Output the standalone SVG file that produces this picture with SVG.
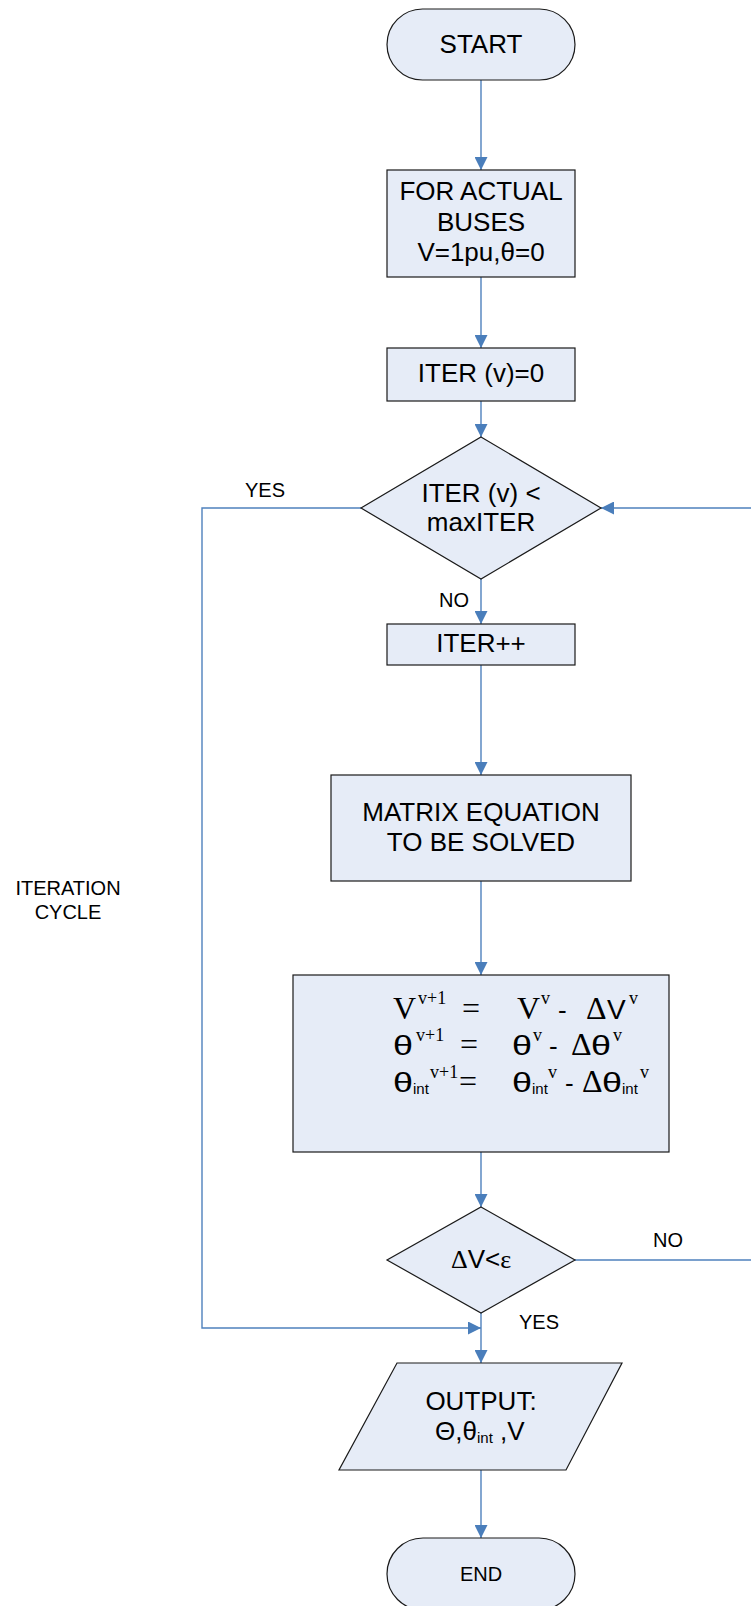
<svg xmlns="http://www.w3.org/2000/svg" width="751" height="1606" viewBox="0 0 751 1606">
<defs>
<style>
.nd{fill:#e6ecf7;stroke:#1a1a1a;stroke-width:1.2}
.cn{fill:none;stroke:#4f81bd;stroke-width:1.4}
.t{font-family:"Liberation Sans",Arial,sans-serif;font-size:26px;fill:#000;text-anchor:middle}
.lb{font-family:"Liberation Sans",Arial,sans-serif;font-size:20px;fill:#000}
.a{font-family:"Liberation Sans",Arial,sans-serif;fill:#000}
.s{font-family:"Liberation Serif","Times New Roman",serif;fill:#000}
</style>
<marker id="ah" markerUnits="userSpaceOnUse" markerWidth="13" markerHeight="13" refX="13" refY="6.5" orient="auto">
<path d="M0,0 L13,6.5 L0,13 Z" fill="#4a7ebb"/>
</marker>
</defs>

<g id="connectors">
<line class="cn" x1="481" y1="80" x2="481" y2="170" marker-end="url(#ah)"/>
<line class="cn" x1="481" y1="277" x2="481" y2="348" marker-end="url(#ah)"/>
<line class="cn" x1="481" y1="401" x2="481" y2="437" marker-end="url(#ah)"/>
<line class="cn" x1="481" y1="579" x2="481" y2="624" marker-end="url(#ah)"/>
<line class="cn" x1="481" y1="665" x2="481" y2="775" marker-end="url(#ah)"/>
<line class="cn" x1="481" y1="881" x2="481" y2="975" marker-end="url(#ah)"/>
<line class="cn" x1="481" y1="1152" x2="481" y2="1207" marker-end="url(#ah)"/>
<line class="cn" x1="481" y1="1313" x2="481" y2="1363" marker-end="url(#ah)"/>
<line class="cn" x1="481" y1="1470" x2="481" y2="1538" marker-end="url(#ah)"/>
<polyline class="cn" points="361,508 202,508 202,1328 481,1328" marker-end="url(#ah)"/>
<polyline class="cn" points="575,1260 754,1260 754,508 601,508" marker-end="url(#ah)"/>
<text class="lb" x="245" y="497">YES</text>
<text class="lb" x="439" y="607">NO</text>
<text class="lb" x="653" y="1247">NO</text>
<text class="lb" x="519" y="1329">YES</text>
<text class="lb" x="68" y="895" text-anchor="middle">ITERATION</text>
<text class="lb" x="68" y="919" text-anchor="middle">CYCLE</text>
</g>

<g id="start">
<rect class="nd" x="387" y="9" width="188" height="71" rx="35.5" ry="35.5"/>
<text class="t" x="481" y="53">START</text>
</g>

<g id="init">
<rect class="nd" x="387" y="170" width="188" height="107"/>
<text class="t" x="481" y="200">FOR ACTUAL</text>
<text class="t" x="481" y="231">BUSES</text>
<text class="t" x="481" y="261">V=1pu,θ=0</text>
</g>

<g id="iter0">
<rect class="nd" x="387" y="348" width="188" height="53"/>
<text class="t" x="481" y="382">ITER (v)=0</text>
</g>

<g id="check-iter">
<polygon class="nd" points="481,437 601,508 481,579 361,508"/>
<text class="t" x="481" y="502">ITER (v) &lt;</text>
<text class="t" x="481" y="531">maxITER</text>
</g>

<g id="iterinc">
<rect class="nd" x="387" y="624" width="188" height="41"/>
<text class="t" x="481" y="652">ITER++</text>
</g>

<g id="matrix">
<rect class="nd" x="331" y="775" width="300" height="106"/>
<text class="t" x="481" y="821">MATRIX EQUATION</text>
<text class="t" x="481" y="851">TO BE SOLVED</text>
</g>

<g id="update">
<rect class="nd" x="293" y="975" width="376" height="177"/>
<text class="s" font-size="32" x="393" y="1019">V</text>
<text class="s" font-size="18" x="418" y="1004">v+1</text>
<text class="s" font-size="32" x="462" y="1019">=</text>
<text class="s" font-size="32" x="517" y="1019">V</text>
<text class="s" font-size="18" x="541" y="1004">v</text>
<text class="a" font-size="26" x="558" y="1019">-</text>
<text class="s" font-size="32" x="586" y="1019">Δ</text>
<text class="a" font-size="28" x="607" y="1019">V</text>
<text class="s" font-size="18" x="629" y="1004">v</text>

<text class="a" font-size="28" x="393" y="1055" textLength="20" lengthAdjust="spacingAndGlyphs">θ</text>
<text class="s" font-size="18" x="416" y="1041">v+1</text>
<text class="s" font-size="32" x="460" y="1055">=</text>
<text class="a" font-size="28" x="512" y="1055" textLength="20" lengthAdjust="spacingAndGlyphs">θ</text>
<text class="s" font-size="18" x="533" y="1041">v</text>
<text class="a" font-size="26" x="549" y="1055">-</text>
<text class="s" font-size="32" x="571" y="1055">Δ</text>
<text class="a" font-size="28" x="591" y="1055" textLength="20" lengthAdjust="spacingAndGlyphs">θ</text>
<text class="s" font-size="18" x="613" y="1041">v</text>

<text class="a" font-size="28" x="393" y="1092" textLength="20" lengthAdjust="spacingAndGlyphs">θ</text>
<text class="a" font-size="15" x="413" y="1094">int</text>
<text class="s" font-size="18" x="430" y="1078">v+1</text>
<text class="s" font-size="32" x="459" y="1092">=</text>
<text class="a" font-size="28" x="512" y="1092" textLength="20" lengthAdjust="spacingAndGlyphs">θ</text>
<text class="a" font-size="15" x="532" y="1094">int</text>
<text class="s" font-size="18" x="548" y="1078">v</text>
<text class="a" font-size="26" x="565" y="1092">-</text>
<text class="s" font-size="32" x="582" y="1092">Δ</text>
<text class="a" font-size="28" x="602" y="1092" textLength="20" lengthAdjust="spacingAndGlyphs">θ</text>
<text class="a" font-size="15" x="622" y="1094">int</text>
<text class="s" font-size="18" x="640" y="1078">v</text>
</g>

<g id="converge">
<polygon class="nd" points="481,1207 575,1260 481,1313 387,1260"/>
<text x="481" y="1268" text-anchor="middle" font-size="26"><tspan class="s">Δ</tspan><tspan class="a">V&lt;</tspan><tspan class="s">ε</tspan></text>
</g>

<g id="output">
<polygon class="nd" points="397,1363 622,1363 566,1470 339,1470"/>
<text class="t" x="481" y="1410">OUTPUT:</text>
<text class="a" font-size="26" x="435" y="1440">Θ,θ</text>
<text class="a" font-size="15" x="477" y="1443">int</text>
<text class="a" font-size="26" x="500" y="1440"> ,V</text>
</g>

<g id="end">
<rect class="nd" x="387" y="1538" width="188" height="72" rx="36" ry="36"/>
<text class="t" x="481" y="1581" style="font-size:20px">END</text>
</g>
</svg>
